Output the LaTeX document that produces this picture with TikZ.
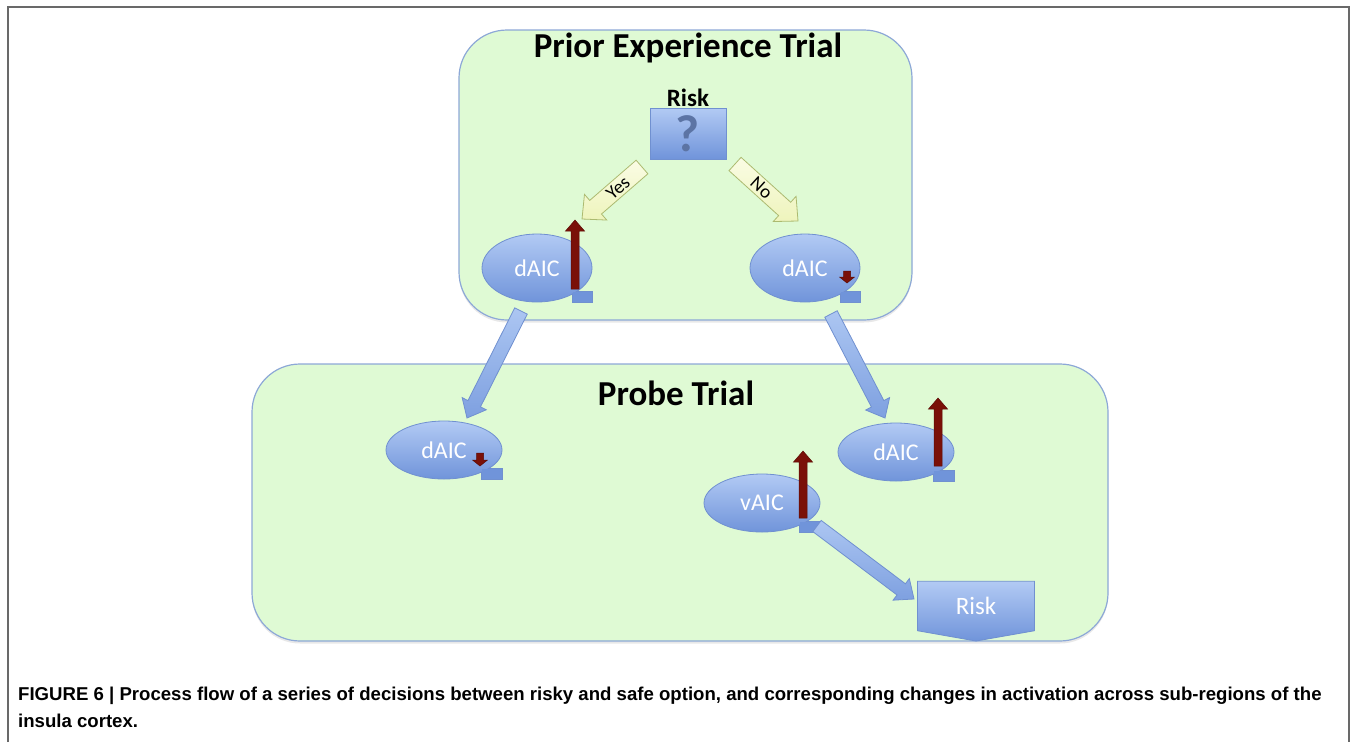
\documentclass[tikz,border=0pt]{standalone}
\usepackage{fontspec}
\setmainfont{Carlito}
\newfontfamily\capfont{Liberation Sans}
\usetikzlibrary{positioning,calc,shapes.geometric,shapes.symbols,shadows}

\definecolor{boxgreen}{RGB}{223,250,212}
\definecolor{boxline}{RGB}{141,168,215}
\definecolor{aictop}{RGB}{178,202,244}
\definecolor{aicbot}{RGB}{112,148,218}
\definecolor{aicline}{RGB}{112,144,208}
\definecolor{flowtop}{RGB}{172,198,242}
\definecolor{flowbot}{RGB}{126,160,224}
\definecolor{riskred}{RGB}{122,16,8}
\definecolor{yestop}{RGB}{250,252,228}
\definecolor{yesbot}{RGB}{238,244,188}
\definecolor{yesline}{RGB}{172,186,112}
\definecolor{qmark}{RGB}{92,116,164}
\definecolor{framegray}{RGB}{105,105,105}

% block arrow: [style]{from}{to}{half shaft}{half head}{head length}, sizes in pt
\newcommand{\blockarrow}[6][]{%
  \coordinate (ba) at ($(#3)!#6pt!(#2)$);
  \path[#1] ($(#2)!#4pt!90:(#3)$) -- ($(ba)!#4pt!90:(#3)$) -- ($(ba)!#5pt!90:(#3)$) -- (#3)
    -- ($(ba)!#5pt!-90:(#3)$) -- ($(ba)!#4pt!-90:(#3)$) -- ($(#2)!#4pt!-90:(#3)$) -- cycle;
}
% tape shaped region: {name}{centre}{width}{height}{text}
\newcommand{\tape}[5]{%
  \filldraw[aicbar] ($(#2)+({0.32*#3},{0.5*#4-11})$) rectangle ($(#2)+({0.5*#3},{0.5*#4})$);
  \node[aic, minimum width=#3, minimum height=#4] (#1) at (#2) {};
  \fill[aicbot] ($(#2)+({0.32*#3+0.5},{0.5*#4-10.5})$) rectangle ($(#2)+({0.5*#3-0.5},{0.5*#4-0.5})$);
  \node[aictext] (#1-text) at (#1) {#5};
}

\tikzset{
  region/.style={draw=boxline, line width=1.2, fill=boxgreen, rounded corners=48,
    drop shadow={opacity=0.18, shadow xshift=0pt, shadow yshift=-2.5pt}},
  title/.style={font=\bfseries\fontsize{35}{42}\selectfont},
  aic/.style={ellipse, draw=aicline, line width=0.8, top color=aictop, bottom color=aicbot, inner sep=0pt},
  aictext/.style={text=white, font=\fontsize{24}{28}\selectfont, inner sep=0pt},
  aicbar/.style={fill=aicbot, draw=aicline, line width=0.8},
  redarr/.style={fill=riskred, draw=riskred!75!black, line width=0.5},
  choice/.style={top color=yestop, bottom color=yesbot, draw=yesline, line width=0.8},
  flow/.style={top color=flowtop, bottom color=flowbot, draw=aicline, line width=0.8},
  capline/.style={anchor=base west, inner sep=0pt, font=\capfont\bfseries\fontsize{18.6}{22}\selectfont},
}

\begin{document}
\begin{tikzpicture}[x=1pt,y=-1pt]
   \useasboundingbox (0,0) rectangle (1354,742);
   \draw[framegray, line width=1.4] (8,742) -- (8,7) -- (1349,7) -- (1349,742);

   % the two trials
   \node[region, minimum width=453, minimum height=290] (priorbox) at (685.5,175) {};
   \node[region, minimum width=856, minimum height=277] (probebox) at (680,502.5) {};
   \node[title] (priortitle) at (688,48) {Prior Experience Trial};
   \node[title] (probetitle) at (676,393) {Probe Trial};

   % risk choice
   \node[draw=aicline, line width=0.8, top color=aictop, bottom color=aicbot,
         minimum width=76, minimum height=51, inner sep=0pt, text=qmark,
         font=\bfseries\fontsize{52}{52}\selectfont] (riskq) at (688,133.5) {?};
   \node[font=\bfseries\fontsize{25}{30}\selectfont, above=0pt of riskq, inner sep=1pt] (risklabel) {Risk};

   \coordinate (yes-s) at (642,167);
   \coordinate (yes-t) at (582,219);
   \coordinate (no-s) at (735,164);
   \coordinate (no-t) at (798,221);
   \blockarrow[choice]{yes-s}{yes-t}{9}{17}{18}
   \blockarrow[choice]{no-s}{no-t}{9}{17}{18}
   \path (yes-s) -- (yes-t) node[pos=0.4, sloped, inner sep=0pt, font=\fontsize{19}{22}\selectfont] (yeslabel) {Yes};
   \path (no-s) -- (no-t) node[pos=0.42, sloped, inner sep=0pt, font=\fontsize{19}{22}\selectfont] (nolabel) {No};

   % insula regions
   \tape{daicyes}{537,268}{110}{68}{dAIC}
   \tape{daicno}{805,268}{110}{68}{dAIC}
   \tape{daicleft}{444,450}{116}{58}{dAIC}
   \tape{daicright}{896,452}{116}{58}{dAIC}
   \tape{vaic}{762,503}{116}{58}{vAIC}

   % activation changes
   \coordinate (up1-s) at (575,289);
   \coordinate (up1-t) at (575,220);
   \coordinate (dn1-s) at (847,271);
   \coordinate (dn1-t) at (847,283);
   \coordinate (dn2-s) at (480,453);
   \coordinate (dn2-t) at (480,466);
   \coordinate (up2-s) at (938,466);
   \coordinate (up2-t) at (938,398);
   \coordinate (up3-s) at (803,518);
   \coordinate (up3-t) at (803,451);
   \blockarrow[redarr]{up1-s}{up1-t}{4}{9.5}{11}
   \blockarrow[redarr]{dn1-s}{dn1-t}{3.5}{7.5}{6}
   \blockarrow[redarr]{dn2-s}{dn2-t}{3.5}{7.5}{6}
   \blockarrow[redarr]{up2-s}{up2-t}{4}{9.5}{11}
   \blockarrow[redarr]{up3-s}{up3-t}{4}{9.5}{11}

   % outcome
   \node[signal, signal to=south, signal pointer angle=160, draw=aicline, line width=0.8,
         top color=aictop, bottom color=aicbot, text=white, font=\fontsize{25}{30}\selectfont,
         minimum width=117, minimum height=53, inner sep=0pt] (riskout) at (976,606) {Risk};

   % flow between trials
   \coordinate (fl-s) at (521,311);
   \coordinate (fl-t) at (467,418);
   \coordinate (fr-s) at (831,314);
   \coordinate (fr-t) at (885,418);
   \coordinate (fv-s) at (817,526);
   \coordinate (fv-t) at (914,599);
   \blockarrow[flow]{fl-s}{fl-t}{7}{13.5}{16}
   \blockarrow[flow]{fr-s}{fr-t}{7}{13.5}{16}
   \blockarrow[flow]{fv-s}{fv-t}{7}{13.5}{16}

   % caption
   \node[capline] (cap1) at (18,700) {FIGURE 6 | Process flow of a series of decisions between risky and safe option, and corresponding changes in activation across sub-regions of the};
   \node[capline] (cap2) at (18,727) {insula cortex.};
\end{tikzpicture}
\end{document}
